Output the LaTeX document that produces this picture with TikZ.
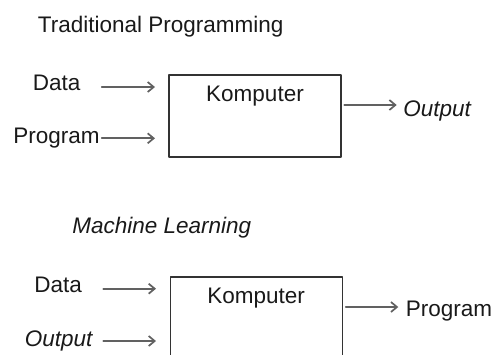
\documentclass[tikz,border=0pt]{standalone}
\usepackage{fontspec}
\setmainfont{Liberation Sans}
\usetikzlibrary{arrows.meta,calc,positioning}

\begin{document}
\begin{tikzpicture}[x=0.5pt, y=-0.5pt, line cap=round, line join=round,
		font=\fontsize{11.25pt}{13pt}\selectfont,
		lbl/.style={anchor=base west, inner sep=0pt, text=black!90},
		kbox/.style={draw=black!80, line width=0.65pt, minimum width=86pt, minimum height=41pt, inner sep=0pt},
		flow/.style={draw=black!62, line width=0.85pt, -{Straight Barb[length=3pt, width=5pt, line width=0.85pt]}}]
		
		% picture frame (lower box runs off the page)
		\clip (0,0) rectangle (492,354);
		
		% Traditional programming
		\node[lbl] (titleT) at (37.5,32) {Traditional Programming};
		\node[kbox] (boxT) at (255,116) {};
		\node[lbl, anchor=base] (kompT) at ($(boxT.north)+(0,27.3)$) {Komputer};
		\node[lbl] (dataT) at (32.5,90) {Data};
		\node[lbl] (progT) at (13,143.6) {Program};
		\node[lbl] (outT) at (403,116) {\itshape Output};
		% arrows
		\coordinate (dataTs) at (101.7,87);
		\coordinate (dataTe) at (155,87);
		\coordinate (progTs) at (101.7,138.3);
		\coordinate (progTe) at (155,138.3);
		\coordinate (outTs) at (344.3,105);
		\coordinate (outTe) at (396.7,105);
		\draw[flow] (dataTs) -- (dataTe);
		\draw[flow] (progTs) -- (progTe);
		\draw[flow] (outTs) -- (outTe);
		
		% Machine learning
		\node[lbl] (titleM) at (72,233.5) {\itshape Machine Learning};
		\node[kbox] (boxM) at (256.2,318) {};
		\node[lbl, anchor=base] (kompM) at ($(boxM.north)+(0,27.6)$) {Komputer};
		\node[lbl] (dataM) at (34,292) {Data};
		\node[lbl] (outM) at (24.5,346) {\itshape Output};
		\node[lbl] (progM) at (405.5,316.7) {Program};
		% arrows
		\coordinate (dataMs) at (103.3,288.7);
		\coordinate (dataMe) at (156,288.7);
		\coordinate (outMs) at (103.3,341);
		\coordinate (outMe) at (156,341);
		\coordinate (progMs) at (345.7,307);
		\coordinate (progMe) at (398.3,307);
		\draw[flow] (dataMs) -- (dataMe);
		\draw[flow] (outMs) -- (outMe);
		\draw[flow] (progMs) -- (progMe);
		
	\end{tikzpicture}
\end{document}
